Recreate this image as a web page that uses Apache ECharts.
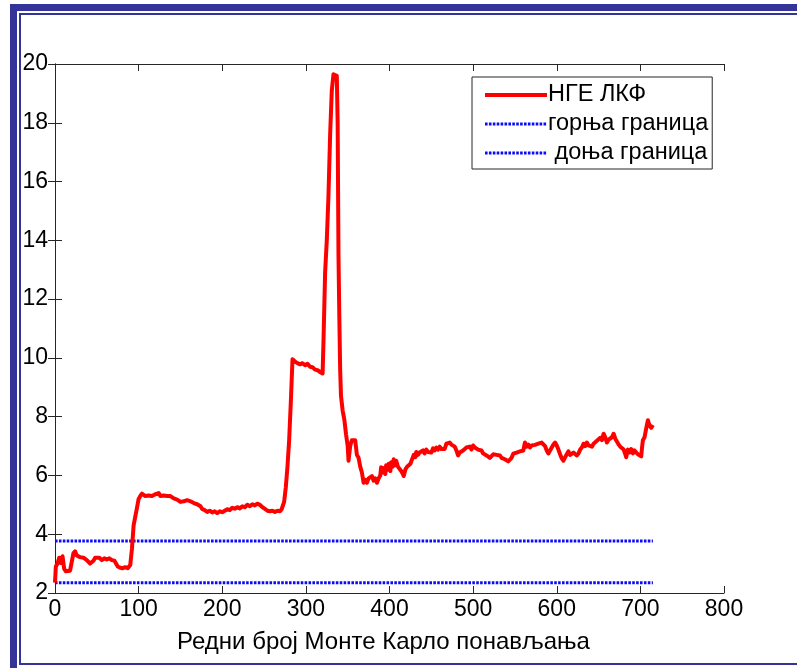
<!DOCTYPE html>
<html>
<head>
<meta charset="utf-8">
<script src="https://cdn.jsdelivr.net/npm/echarts@6/dist/echarts.min.js"></script>
<style>
  html, body { margin: 0; padding: 0; background: #fff; }
  #chart { width: 797px; height: 668px; }
</style>
</head>
<body>
<div id="chart"></div>
<script>
// Iteration index and NGE LKF value at that iteration
const iterX = [
  0, 1, 3, 5, 7, 9, 11, 13, 15, 18, 20, 22, 24, 26, 28, 30, 32, 34, 36, 38,
  40, 42, 44, 46, 48, 50, 53, 56, 59, 62, 65, 68, 71, 73, 75, 78, 81, 84, 87, 90,
  92, 94, 96, 98, 100, 102, 104, 106, 108, 110, 112, 114, 116, 118, 120, 122, 124, 126, 128, 130,
  132, 134, 136, 138, 140, 142, 144, 146, 148, 150, 152, 154, 156, 158, 160, 162, 164, 166, 168, 170,
  172, 174, 176, 179, 182, 185, 188, 191, 194, 197, 200, 203, 206, 209, 212, 215, 218, 221, 224, 227,
  230, 233, 236, 239, 242, 245, 248, 251, 254, 257, 260, 263, 266, 269, 271, 274, 276, 278, 280, 282,
  284, 286, 288, 290, 293, 296, 299, 302, 305, 308, 311, 314, 317, 320, 321, 323, 325, 327, 329, 331,
  333, 335, 337, 338, 339, 340, 341, 342, 344, 346, 348, 350, 351, 353, 355, 357, 359, 361, 363, 365,
  367, 369, 371, 373, 375, 377, 379, 381, 383, 385, 387, 389, 390, 392, 393, 395, 396, 398, 399, 401,
  402, 404, 405, 407, 408, 410, 412, 414, 416, 417, 419, 421, 423, 425, 427, 429, 431, 432, 434, 436,
  438, 440, 442, 444, 446, 448, 450, 452, 454, 456, 458, 460, 462, 464, 466, 468, 470, 472, 474, 476,
  478, 480, 482, 484, 486, 488, 490, 492, 494, 496, 498, 500, 502, 504, 506, 508, 510, 512, 514, 516,
  518, 520, 522, 524, 526, 528, 530, 532, 534, 536, 538, 540, 542, 544, 546, 548, 550, 552, 554, 556,
  558, 560, 562, 564, 566, 568, 570, 572, 574, 576, 578, 580, 582, 584, 586, 588, 590, 592, 594, 596,
  598, 600, 602, 604, 606, 608, 610, 612, 614, 616, 618, 620, 622, 624, 626, 628, 630, 632, 634, 636,
  638, 640, 642, 644, 646, 648, 650, 652, 654, 656, 658, 660, 662, 664, 666, 668, 670, 672, 674, 676,
  678, 680, 682, 683, 685, 687, 689, 691, 693, 695, 697, 699, 701, 702, 703, 705, 707, 709, 711, 713,
  715
];
const ngeLkf = [
  2.35, 2.9, 3.0, 3.2, 3.02, 3.25, 2.82, 2.74, 2.8, 2.76, 2.8, 3.35, 3.42, 3.28, 3.3, 3.22, 3.28, 3.2, 3.24, 3.12,
  3.1, 3.0, 3.06, 3.1, 3.2, 3.14, 3.2, 3.12, 3.18, 3.14, 3.18, 3.12, 3.1, 3.0, 2.9, 2.86, 2.84, 2.88, 2.84, 2.95,
  3.5, 4.3, 4.6, 4.9, 5.2, 5.3, 5.38, 5.42, 5.3, 5.36, 5.32, 5.38, 5.3, 5.34, 5.36, 5.32, 5.4, 5.3, 5.25, 5.32,
  5.28, 5.3, 5.24, 5.3, 5.28, 5.22, 5.2, 5.18, 5.14, 5.1, 5.08, 5.12, 5.1, 5.16, 5.17, 5.12, 5.1, 5.06, 5.05, 5.02,
  5.0, 4.95, 4.86, 4.82, 4.76, 4.8, 4.74, 4.78, 4.72, 4.78, 4.75, 4.8, 4.85, 4.82, 4.9, 4.87, 4.92, 4.88, 4.95, 4.92,
  5.0, 4.95, 5.02, 4.98, 5.04, 5.0, 4.92, 4.86, 4.8, 4.78, 4.8, 4.76, 4.8, 4.78, 4.85, 5.1, 5.6, 6.3, 7.2, 8.5,
  9.95, 9.93, 9.85, 9.8, 9.78, 9.82, 9.75, 9.8, 9.7, 9.68, 9.6, 9.58, 9.52, 9.47, 10.5, 12.9, 14.0, 15.5, 17.6, 19.1,
  19.65, 19.7, 19.6, 18.0, 13.5, 11.4, 9.6, 8.7, 8.2, 7.9, 7.4, 7.0, 6.5, 7.0, 7.2, 7.15, 7.2, 6.7, 6.6, 6.3,
  6.1, 5.75, 5.85, 5.75, 5.9, 5.85, 5.98, 5.82, 5.9, 5.75, 5.9, 6.0, 6.28, 6.1, 6.25, 6.05, 6.35, 6.2, 6.4, 6.15,
  6.45, 6.3, 6.55, 6.35, 6.5, 6.3, 6.28, 6.15, 6.05, 5.98, 6.2, 6.3, 6.25, 6.4, 6.35, 6.7, 6.62, 6.8, 6.7, 6.78,
  6.72, 6.85, 6.75, 6.88, 6.8, 6.85, 6.78, 6.92, 6.85, 6.95, 6.88, 6.98, 6.9, 6.95, 6.9, 7.08, 7.02, 7.12, 7.05, 7.1,
  6.98, 6.85, 6.68, 6.78, 6.72, 6.85, 6.8, 6.95, 6.9, 6.98, 6.88, 7.02, 6.95, 6.98, 6.88, 6.82, 6.85, 6.75, 6.78, 6.68,
  6.72, 6.6, 6.62, 6.72, 6.66, 6.7, 6.64, 6.68, 6.6, 6.62, 6.55, 6.52, 6.48, 6.46, 6.6, 6.74, 6.7, 6.78, 6.74, 6.82,
  6.76, 6.85, 7.12, 6.98, 7.05, 6.95, 7.02, 6.96, 7.04, 6.98, 7.08, 7.02, 7.12, 7.18, 7.0, 6.85, 6.75, 6.85, 6.95, 7.05,
  7.12, 7.02, 6.88, 6.72, 6.58, 6.5, 6.62, 6.72, 6.82, 6.7, 6.65, 6.78, 6.72, 6.68, 6.75, 6.88, 6.95, 7.08, 7.0, 7.12,
  7.02, 7.05, 6.98, 7.08, 7.05, 7.18, 7.12, 7.28, 7.2, 7.42, 7.3, 7.12, 7.22, 7.18, 7.3, 7.42, 7.25, 7.22, 7.05, 6.98,
  6.92, 6.88, 6.72, 6.62, 6.88, 6.78, 6.9, 6.75, 6.85, 6.8, 6.72, 6.75, 6.65, 6.95, 7.2, 7.3, 7.6, 7.88, 7.7, 7.62,
  7.72
];

// Confidence bounds, constant over the run
const boundRange = [0, 715];
const upperBound = 3.77;
const lowerBound = 2.35;

const xTicks = { min: 0, max: 800, interval: 100 };
const yTicks = { min: 2, max: 20, interval: 2 };

const seriesNames = ['НГЕ ЛКФ', 'горња граница', ' доња граница'];
const xAxisName = 'Редни број Монте Карло понављања';

const FONT = '"Liberation Sans", Arial, sans-serif';
const NAVY = '#333399';
const AXIS = '#262626';
const RED = '#ff0000';
const BLUE = '#0a0aff';
const DOTS = [2.6, 1.3];

const chart = echarts.init(document.getElementById('chart'), null, { renderer: 'canvas' });

const mainData = iterX.map((x, i) => [x, ngeLkf[i]]);
const upperData = boundRange.map(x => [x, upperBound]);
const lowerData = boundRange.map(x => [x, lowerBound]);

const axisCommon = {
  axisLine: { show: true, lineStyle: { color: AXIS, width: 1 } },
  axisTick: { show: true, inside: true, length: 7, lineStyle: { color: AXIS, width: 1 } },
  splitLine: { show: false }
};

chart.setOption({
  animation: false,
  backgroundColor: '#ffffff',
  grid: { left: 55, top: 64, width: 669, height: 529, containLabel: false },
  xAxis: [
    Object.assign({
      type: 'value', position: 'bottom', min: xTicks.min, max: xTicks.max, interval: xTicks.interval,
      axisLabel: { color: '#000', fontFamily: FONT, fontSize: 23, margin: 5 },
      name: xAxisName, nameLocation: 'middle', nameGap: 37,
      nameTextStyle: { color: '#000', fontFamily: FONT, fontSize: 24, padding: [0, 12, 0, 0] }
    }, axisCommon),
    Object.assign({
      type: 'value', position: 'top', min: xTicks.min, max: xTicks.max, interval: xTicks.interval,
      axisLabel: { show: false }
    }, axisCommon)
  ],
  yAxis: [
    Object.assign({
      type: 'value', position: 'left', min: yTicks.min, max: yTicks.max, interval: yTicks.interval,
      axisLabel: { color: '#000', fontFamily: FONT, fontSize: 23, margin: 7 }
    }, axisCommon),
    Object.assign({
      type: 'value', position: 'right', min: yTicks.min, max: yTicks.max, interval: yTicks.interval,
      axisLabel: { show: false }
    }, axisCommon)
  ],
  legend: {
    orient: 'vertical',
    left: 472, top: 77,
    padding: [6, 4, 4, 11],
    itemGap: 5,
    itemWidth: 62, itemHeight: 20,
    backgroundColor: '#fff',
    borderColor: AXIS, borderWidth: 1,
    itemStyle: { opacity: 0 },
    textStyle: { color: '#000', fontFamily: FONT, fontSize: 23.5, lineHeight: 20, padding: [0, 0, 0, -4] },
    data: [
      { name: seriesNames[0], lineStyle: { color: RED, width: 4 } },
      { name: seriesNames[1], lineStyle: { color: BLUE, width: 3, type: DOTS } },
      { name: seriesNames[2], lineStyle: { color: BLUE, width: 3, type: DOTS } }
    ]
  },
  series: [
    {
      name: seriesNames[0], type: 'line', data: mainData, showSymbol: false, symbol: 'none',
      lineStyle: { color: RED, width: 4, join: 'round' }, itemStyle: { color: RED }, z: 3
    },
    {
      name: seriesNames[1], type: 'line', data: upperData, showSymbol: false, symbol: 'none',
      lineStyle: { color: BLUE, width: 3, type: DOTS }, itemStyle: { color: BLUE }, z: 2
    },
    {
      name: seriesNames[2], type: 'line', data: lowerData, showSymbol: false, symbol: 'none',
      lineStyle: { color: BLUE, width: 3, type: DOTS }, itemStyle: { color: BLUE }, z: 2
    }
  ],
  graphic: [
    // outer frame bars (top and left)
    { type: 'rect', shape: { x: 10, y: 4, width: 800, height: 7 }, style: { fill: NAVY }, z: 100 },
    { type: 'rect', shape: { x: 10, y: 4, width: 7, height: 680 }, style: { fill: NAVY }, z: 100 },
    // inner thin frame line
    { type: 'polyline', shape: { points: [[800, 14], [20, 14], [20, 664], [800, 664]] },
      style: { stroke: NAVY, lineWidth: 2, fill: null }, z: 100 }
  ]
});
</script>
</body>
</html>
